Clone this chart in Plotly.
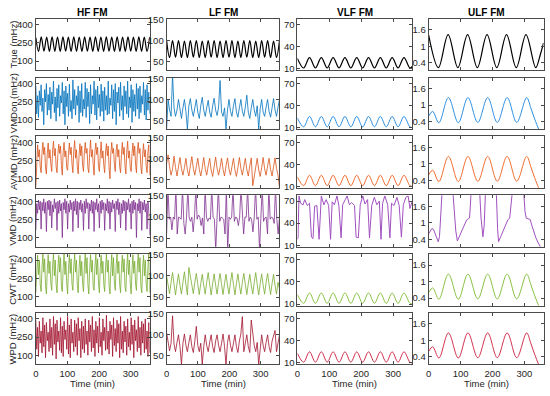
import numpy as np
import plotly.graph_objects as go

W, H = 550, 396

row_names = ["True", "VMDon", "AVMD", "VMD", "CWT", "WPD"]
col_titles = ["HF FM", "LF FM", "VLF FM", "ULF FM"]
colors = ["#000000", "#0072BD", "#D95319", "#7E2F8E", "#77AC30", "#A2142F"]
light_colors = ["#000000", "#2b8ee0", "#f06a2a", "#a050c0", "#88c040", "#d0304f"]

y_ranges = [[25, 450], [30, 152], [8, 78], [0.13, 2.0]]
y_ticks = [[100, 250, 400], [50, 100, 150], [10, 40, 70], [0.4, 1, 1.6]]
y_ticktext = [["100", "250", "400"], ["50", "100", "150"], ["10", "40", "70"], ["0.4", "1", "1.6"]]
x_ticks = [0, 100, 200, 300]

# ---------------- HF ----------------
hf_true = [295, 180, 300, 182, 298, 180, 300, 181, 299, 180, 300, 182, 298, 180, 300,
           181, 299, 180, 300, 182, 298, 180, 300, 181, 299, 180, 300, 182, 298, 180,
           300, 181, 299, 180, 300, 182, 298, 180, 300, 181, 299, 180, 300]
hf_vmdon = [380, 150, 300, 120, 340, 220, 390, 170, 280, 60, 350, 250,
            400, 140, 310, 180, 370, 110, 330, 230, 420, 160, 290, 90,
            360, 200, 390, 130, 300, 240, 410, 150, 340, 60, 380, 210,
            320, 130, 395, 170, 260, 110, 430, 190, 350, 140, 300, 220,
            380, 80, 340, 160, 400, 130, 270, 190, 410, 120, 360, 210,
            330, 70, 390, 150, 300, 230, 420, 140, 350, 100, 380, 200,
            310, 130, 395, 170, 340, 90, 370, 180, 300, 140, 420, 150,
            280, 220, 390, 110, 350, 170, 400, 60, 330, 240, 370, 130,
            410, 180, 300, 100, 380, 210, 340, 150, 420, 120, 290, 200,
            390, 80, 350, 170, 310, 130, 400, 190, 360, 110, 380, 160,
            300, 230, 410, 140, 350, 100, 390, 180, 330, 150]
hf_avmd = [30, 300, 380, 280, 340, 200, 150, 320, 400, 300, 360, 190,
           140, 310, 395, 270, 340, 220, 160, 330, 410, 290, 350, 200,
           150, 300, 385, 310, 370, 210, 130, 320, 400, 280, 330, 190,
           170, 310, 395, 300, 360, 220, 150, 330, 415, 270, 340, 200,
           140, 300, 390, 290, 370, 210, 160, 320, 400, 310, 350, 190,
           150, 310, 420, 280, 340, 220, 130, 330, 395, 300, 360, 200,
           160, 300, 405, 270, 330, 210, 150, 320, 390, 290, 370, 190,
           100, 310, 400, 310, 350, 220, 160, 330, 385, 280, 340, 200,
           150, 300, 400, 300, 360, 210, 140, 320, 410, 270, 330, 190,
           160, 310, 395, 290, 370, 220, 150, 330, 400, 310, 350, 200,
           140, 300, 390, 280, 340, 210, 150, 320, 380, 130]
hf_vmd = [160, 380, 300, 410, 330, 400, 170, 390, 320, 420, 300, 390,
          150, 400, 330, 410, 280, 400, 180, 370, 310, 420, 340, 390,
          160, 400, 300, 410, 320, 380, 100, 390, 330, 420, 300, 400,
          170, 380, 310, 410, 330, 390, 150, 400, 320, 420, 290, 400,
          180, 390, 330, 410, 310, 380, 160, 400, 300, 420, 340, 390,
          170, 380, 320, 410, 300, 400, 150, 390, 330, 420, 310, 380,
          180, 400, 300, 410, 330, 390, 160, 380, 320, 420, 300, 400,
          170, 390, 310, 410, 340, 380, 150, 400, 330, 420, 290, 390,
          180, 380, 300, 410, 320, 400, 160, 390, 330, 420, 310, 380,
          170, 400, 300, 410, 330, 390, 100, 380, 320, 420, 300, 400,
          160, 390, 330, 410, 310, 380, 170, 400, 320, 120]
hf_cwt = [130, 330, 440, 280, 400, 200, 140, 340, 450, 300, 410, 190,
          120, 320, 445, 290, 390, 210, 150, 350, 450, 270, 400, 200,
          130, 330, 440, 300, 420, 180, 140, 340, 450, 280, 390, 210,
          120, 320, 445, 290, 410, 200, 150, 350, 450, 300, 400, 190,
          130, 330, 440, 270, 390, 210, 140, 340, 450, 290, 420, 200,
          120, 320, 445, 300, 400, 180, 150, 350, 450, 280, 410, 210,
          130, 330, 440, 290, 390, 200, 140, 340, 450, 300, 400, 190,
          120, 320, 445, 270, 420, 210, 150, 350, 450, 290, 390, 200,
          130, 330, 440, 300, 410, 180, 140, 340, 450, 280, 400, 210,
          120, 320, 445, 290, 390, 200, 150, 350, 450, 300, 420, 190,
          130, 330, 440, 270, 400, 210, 140, 340, 450, 130]
hf_wpd = [390, 150, 330, 90, 380, 200, 300, 120, 410, 170, 350, 80,
          370, 220, 290, 130, 400, 160, 330, 100, 420, 190, 360, 70,
          390, 210, 300, 140, 410, 120, 340, 90, 380, 230, 310, 150,
          420, 110, 350, 80, 400, 200, 290, 130, 390, 170, 360, 100,
          410, 220, 320, 80, 380, 150, 340, 120, 400, 190, 300, 100,
          390, 210, 350, 130, 420, 160, 310, 90, 380, 200, 340, 120,
          410, 170, 290, 100, 400, 220, 330, 140, 430, 150, 300, 110,
          380, 230, 350, 90, 410, 180, 320, 130, 390, 200, 360, 80,
          420, 150, 300, 120, 380, 210, 340, 100, 400, 170, 290, 140,
          410, 190, 350, 80, 390, 220, 310, 130, 420, 160, 330, 100,
          380, 200, 360, 120, 400, 150, 300, 90, 370, 120]

# ---------------- LF ----------------
lf_true = [100, 60, 100, 61, 100, 60, 99, 60, 100, 61, 100, 60, 99, 60, 100, 61, 100,
           60, 99, 60, 100, 61, 100, 60, 99, 60, 100, 61, 100, 60, 99, 60, 100, 61, 100,
           60, 99, 60, 100]
lf_vmdon = [30, 100, 75, 60, 158, 80, 60, 75, 100, 70, 55, 80, 100, 72, 30, 85, 102,
            75, 60, 80, 100, 70, 55, 85, 105, 75, 60, 80, 98, 70, 58, 85, 103, 75, 62,
            82, 145, 70, 60, 80, 30, 75, 100, 72, 60, 85, 102, 70, 58, 80, 100, 72, 60,
            82, 110, 70, 55, 80, 100, 75, 60, 85, 30, 78, 100, 70, 60, 82, 100, 72, 58,
            80, 102, 75, 60, 82, 100]
lf_avmd = [87, 108, 80, 60, 75, 105, 78, 58, 80, 102, 75, 60, 78, 100, 72, 58, 82, 104,
           76, 60, 80, 100, 74, 58, 78, 102, 75, 60, 82, 100, 72, 57, 80, 103, 76, 60,
           78, 100, 74, 58, 82, 101, 75, 60, 80, 100, 73, 57, 78, 102, 76, 60, 80, 100,
           74, 58, 82, 101, 35, 60, 80, 100, 73, 57, 78, 102, 75, 60, 82, 100, 74, 58,
           80, 101, 76, 60, 30]
lf_vmd = [60, 170, 95, 100, 70, 100, 95, 170, 60, 100, 98, 95, 170, 85, 60, 100, 170,
          98, 90, 100, 65, 100, 170, 95, 105, 100, 80, 98, 60, 170, 100, 90, 98, 95, 170,
          100, 95, 20, 100, 170, 90, 100, 98, 95, 60, 170, 20, 100, 95, 100, 170, 90, 100,
          98, 80, 100, 170, 95, 60, 100, 100, 170, 90, 100, 95, 65, 100, 170, 95, 100, 20,
          100, 170, 90, 98, 100, 60, 170, 95, 100, 98, 85, 170, 95, 60, 100]
lf_cwt = [100, 80, 58, 85, 108, 80, 55, 82, 105, 78, 57, 85, 110, 80, 55, 120, 100, 75,
          58, 85, 106, 80, 56, 82, 104, 78, 57, 85, 108, 80, 55, 82, 105, 78, 57, 85, 106,
          80, 56, 82, 104, 78, 57, 85, 108, 80, 55, 82, 105, 78, 57, 85, 106, 80, 56, 82,
          104, 78, 57, 85, 108, 80, 55, 82, 105, 78, 57, 85, 106, 80, 56, 82, 104, 78, 57,
          85, 70]
lf_wpd = [105, 85, 62, 80, 145, 78, 60, 82, 100, 72, 30, 80, 102, 75, 60, 82, 100, 72,
          58, 85, 120, 75, 60, 80, 30, 72, 100, 75, 60, 82, 100, 72, 58, 85, 100, 75, 60,
          80, 102, 72, 30, 82, 100, 75, 60, 80, 100, 72, 58, 85, 102, 143, 60, 80, 100,
          72, 58, 135, 100, 75, 60, 82, 30, 72, 100, 75, 60, 82, 100, 72, 58, 85, 100,
          110, 60, 80, 100]

# ---------------- VLF ----------------
vlf_t = [0, 19.5, 38, 56.5, 75, 93.5, 112, 130.5, 149, 167.5, 186, 204.5, 223, 241.5,
         260, 278.5, 297, 315.5, 334, 352.5, 360]
vlf_true = [24, 11, 25, 11, 25, 11, 25, 11, 25, 11, 25, 11, 25, 11, 25, 11, 25, 11, 25,
            11, 13]
vlf_est = [23, 11, 25, 11, 25, 11, 25, 11, 25, 11, 25, 11, 25, 11, 25, 11, 25, 11, 25,
           11, 10]
vlf_vmd_t = [0, 2, 5, 10, 18, 23, 31, 38, 44, 49, 54, 61, 68, 75, 83, 90, 98, 104, 109,
             116, 124, 130, 137, 142, 150, 156, 163, 170, 179, 184, 191, 197, 205, 212,
             220, 226, 233, 241, 249, 257, 262, 267, 274, 283, 290, 295, 303, 312, 319,
             326, 332, 340, 347, 353, 360]
vlf_vmd = [18, 20, 77, 67, 65, 72, 64, 67, 21, 19, 63, 64, 18, 77, 65, 72, 64, 18, 69,
           65, 77, 64, 20, 65, 72, 77, 65, 68, 64, 21, 20, 65, 77, 66, 72, 20, 64, 75,
           65, 70, 18, 67, 77, 65, 20, 67, 64, 75, 64, 21, 65, 75, 77, 60, 70]

# ---------------- ULF ----------------
ulf_t_true = [0, 30.5, 61, 91.5, 122, 152.5, 183, 213.5, 244, 274.5, 305, 335.5, 350, 360]
ulf_true = [1.40, 0.22, 1.42, 0.22, 1.42, 0.22, 1.42, 0.22, 1.42, 0.22, 1.42, 0.22, 0.7, 1.12]
ulf_t_est = [0, 12.5, 32, 62, 93, 123, 154, 185, 215, 246, 276, 307, 320, 332, 345, 355]
ulf_est = [0.60, 0.77, 0.36, 1.27, 0.36, 1.27, 0.37, 1.27, 0.37, 1.27, 0.37, 1.27,
           0.90, 0.50, 0.12, -0.10]
ulf_vmd_t = [0, 5, 10, 15, 20, 26, 30, 34, 38, 42, 76, 80, 85, 90, 96, 104, 111, 119,
             124, 128, 130, 133, 160, 164, 170, 174, 178, 212, 216, 219, 226, 236, 248,
             254, 258, 262, 298, 302, 306, 312, 318, 324, 330, 336, 342, 348, 352]
ulf_vmd = [0.60, 0.72, 0.79, 0.76, 0.60, 0.38, 0.31, 0.50, 1.20, 2.10, 2.10, 1.30,
           0.70, 0.34, 0.50, 0.72, 0.88, 1.10, 1.14, 1.17, 1.50, 2.10, 2.10, 1.20,
           0.49, 0.90, 2.10, 2.10, 0.80, 0.31, 0.50, 0.77, 1.10, 1.17, 1.60, 2.10,
           2.10, 1.40, 1.16, 1.14, 1.12, 0.88, 0.65, 0.45, 0.30, 0.18, 0.08]

hf_series = [hf_true, hf_vmdon, hf_avmd, hf_vmd, hf_cwt, hf_wpd]
lf_series = [lf_true, lf_vmdon, lf_avmd, lf_vmd, lf_cwt, lf_wpd]

fig = go.Figure()

col_px = [(33, 147.5), (164.5, 278), (296, 411.5), (428, 543.5)]
row_top0, row_step, row_h = 14, 60.2, 52.7


def add(r, c, x, y, color, shape="linear", width=1.0):
    idx = r * 4 + c + 1
    fig.add_trace(go.Scatter(x=x, y=y, mode="lines",
                             line=dict(color=color, width=width, shape=shape,
                                       smoothing=1.0),
                             xaxis=f"x{idx}", yaxis=f"y{idx}",
                             showlegend=False, hoverinfo="skip"))


for r in range(6):
    hf = hf_series[r]
    add(r, 0, np.linspace(0, 360, len(hf)), hf, colors[r],
        shape="spline" if r == 0 else "linear", width=1.2 if r == 0 else 0.8)
    lf = lf_series[r]
    add(r, 1, np.linspace(0, 360, len(lf)), lf, colors[r],
        shape="spline" if r == 0 else "linear", width=1.2 if r == 0 else 0.8)
    if r == 0:
        add(r, 2, vlf_t, vlf_true, colors[r], shape="spline", width=1.2)
        add(r, 3, ulf_t_true, ulf_true, colors[r], shape="spline", width=1.2)
    elif r == 3:
        add(r, 2, vlf_vmd_t, vlf_vmd, light_colors[r], width=1.0)
        add(r, 3, ulf_vmd_t, ulf_vmd, light_colors[r], width=1.0)
    else:
        add(r, 2, vlf_t, vlf_est, light_colors[r], shape="spline", width=1.0)
        add(r, 3, ulf_t_est, ulf_est, light_colors[r], shape="spline", width=1.0)

FS = 9
layout = dict(width=W, height=H, margin=dict(l=0, r=0, t=0, b=0),
              plot_bgcolor="white", paper_bgcolor="white",
              font=dict(family="Liberation Sans, Arial", size=FS, color="#262626"))

axis_color = "#4a4a4a"
for r in range(6):
    top = row_top0 + r * row_step
    bot = top + row_h
    for c in range(4):
        idx = r * 4 + c + 1
        x0, x1 = col_px[c]
        layout[f"xaxis{idx}"] = dict(
            domain=[x0 / W, x1 / W], anchor=f"y{idx}", range=[0, 360],
            tickvals=x_ticks, showticklabels=(r == 5), ticks="inside", ticklen=3,
            tickcolor=axis_color, showline=True, linecolor=axis_color, linewidth=1,
            mirror="ticks", showgrid=False, zeroline=False,
            tickfont=dict(size=FS + 0.5, color="#262626"),
        )
        layout[f"yaxis{idx}"] = dict(
            domain=[1 - bot / H, 1 - top / H], anchor=f"x{idx}", range=y_ranges[c],
            tickvals=y_ticks[c], ticktext=y_ticktext[c], ticks="inside", ticklen=3,
            tickcolor=axis_color, showline=True, linecolor=axis_color, linewidth=1,
            mirror="ticks", showgrid=False, zeroline=False,
            tickfont=dict(size=FS + 0.5, color="#262626"),
        )

annotations = []
for c in range(4):
    x0, x1 = col_px[c]
    annotations.append(dict(text=f"<b>{col_titles[c]}</b>", x=(x0 + x1) / 2 / W,
                            y=1 - 7.5 / H, xref="paper", yref="paper", showarrow=False,
                            font=dict(size=10, color="#000000"), xanchor="center",
                            yanchor="middle"))
    annotations.append(dict(text="Time (min)", x=(x0 + x1) / 2 / W,
                            y=1 - 387.5 / H, xref="paper", yref="paper", showarrow=False,
                            font=dict(size=FS + 0.5, color="#262626"), xanchor="center",
                            yanchor="middle"))
for r in range(6):
    top = row_top0 + r * row_step
    annotations.append(dict(text=f"{row_names[r]} (mHz)", x=10 / W,
                            y=1 - (top + row_h / 2) / H, xref="paper", yref="paper",
                            showarrow=False, textangle=-90,
                            font=dict(size=FS + 0.5, color="#262626"),
                            xanchor="center", yanchor="middle"))
layout["annotations"] = annotations

fig.update_layout(**layout)
fig.write_html("out.html", config={"displayModeBar": False},
               post_script="document.body.style.margin='0';document.body.style.padding='0';")
